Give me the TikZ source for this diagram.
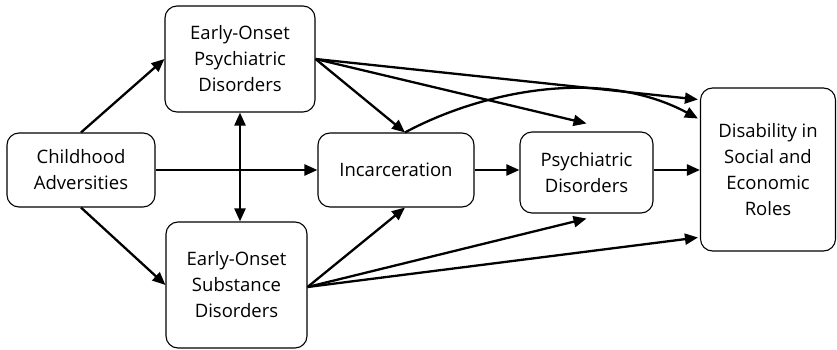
\documentclass[tikz,border=0pt]{standalone}
\usepackage{fontspec}
\setmainfont{Open Sans}
\usetikzlibrary{arrows.meta}
\begin{document}
\begin{tikzpicture}[x=1pt,y=-1pt,
  box/.style={draw, line width=1.1pt, rounded corners=12pt, align=center,
    font=\fontsize{18.5}{26}\selectfont, inner sep=0pt},
  arr/.style={line width=2.3pt, -{Triangle[length=13pt,width=11pt]}},
  darr/.style={line width=2.3pt, {Triangle[length=13pt,width=11pt]}-{Triangle[length=13pt,width=11pt]}}]
\useasboundingbox (0,0) rectangle (837,350);
\node[box, minimum width=150pt, minimum height=106pt] (eop) at (240,59) {Early-Onset\\Psychiatric\\Disorders};
\node[box, minimum width=148pt, minimum height=74pt] (ca) at (81,170) {Childhood\\Adversities};
\node[box, minimum width=156pt, minimum height=74pt] (inc) at (396,170) {Incarceration};
\node[box, minimum width=141pt, minimum height=126pt] (eos) at (236.5,285) {Early-Onset\\Substance\\Disorders};
\node[box, minimum width=133pt, minimum height=81pt] (pd) at (586.5,172.5) {Psychiatric\\Disorders};
\node[box, minimum width=135pt, minimum height=163pt] (dis) at (768,169.5) {Disability in\\Social and\\Economic\\Roles};
\coordinate (incn) at ([xshift=9pt]inc.north);
\coordinate (incs) at ([xshift=9pt]inc.south);
\coordinate (pdn) at ([yshift=8pt]pd.north);
\coordinate (pds) at ([yshift=-5pt]pd.south);
\coordinate (d1) at ([xshift=-2pt,yshift=70pt]dis.west);
\coordinate (d2) at ([xshift=-2pt,yshift=51pt]dis.west);
\coordinate (d4) at ([xshift=-2pt,yshift=-68pt]dis.west);
\coordinate (eoe) at ([yshift=-2pt]eos.east);
\draw[arr] (ca.north) -- (eop.west);
\draw[arr] (ca.south) -- (eos.west);
\draw[arr] (ca.east) -- (inc.west);
\draw[darr] (eop.south) -- (eos.north -| eop.south);
\draw[arr] (eop.east) -- (incn);
\draw[arr] (eop.east) -- (pdn);
\draw[arr] (eop.east) -- (d1);
\draw[arr] (incn) .. controls (480,92) and (600,66) .. (d2);
\draw[arr] (inc.east) -- (pd.west |- inc.east);
\draw[arr] (pd.east |- inc.east) -- (dis.west |- inc.east);
\draw[arr] (eoe) -- (incs);
\draw[arr] (eoe) -- (pds);
\draw[arr] (eoe) -- (d4);
\end{tikzpicture}
\end{document}
